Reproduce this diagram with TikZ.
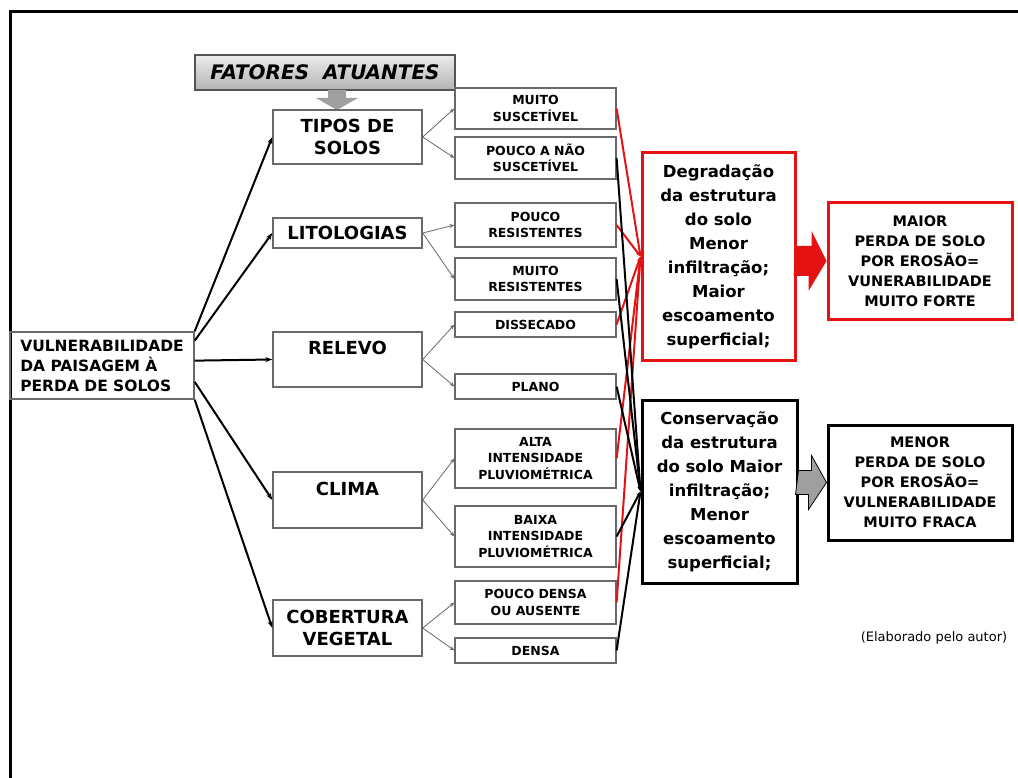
\documentclass[tikz,border=0pt]{standalone}
\usepackage{fontspec}
\setmainfont{DejaVu Sans}
\usetikzlibrary{arrows.meta}
\definecolor{verm}{RGB}{228,18,18}
\definecolor{cinza}{RGB}{105,105,105}

\begin{document}
\begin{tikzpicture}[x=1pt, y=-1pt,
    catbox/.style={draw=cinza, line width=1.4pt, minimum width=149pt, inner sep=0pt, align=center, font=\fontsize{18}{22}\selectfont\bfseries},
    subbox/.style={draw=cinza, line width=1.2pt, minimum width=161pt, inner sep=0pt, align=center, font=\fontsize{12.5}{16.5}\selectfont\bfseries},
    redbox/.style={draw=verm, line width=3pt, inner sep=0pt, align=center, font=\fontsize{16.5}{24}\selectfont\bfseries},
    blackbox/.style={draw=black, line width=3pt, inner sep=0pt, align=center, font=\fontsize{16.5}{24}\selectfont\bfseries},
    resbox/.style={line width=3pt, minimum width=184pt, inner sep=0pt, align=center, font=\fontsize{14.5}{20}\selectfont\bfseries},
    mainarrow/.style={line width=2pt, -{Stealth[length=7pt,width=5pt]}},
    subarrow/.style={draw=cinza, line width=0.8pt, -{Stealth[length=5pt,width=4pt]}},
    redline/.style={verm, line width=2pt, -{Stealth[length=5pt,width=4pt]}},
    blackline/.style={black, line width=2pt, -{Stealth[length=5pt,width=4pt]}}]

    \useasboundingbox (0,0) rectangle (1018,778);
    \draw[line width=3pt] (10,778) -- (10,12) -- (1018,12);

    % titulo e origem
    \node[draw=cinza!80!black, line width=1.2pt, top color=gray!15, bottom color=gray!60, minimum width=260pt, minimum height=35pt, inner sep=0pt, font=\fontsize{20}{24}\selectfont\bfseries\itshape] (fat) at(325, 72.5){FATORES\ \ ATUANTES};
    \node[draw=cinza, line width=1.4pt, minimum width=184pt, minimum height=67pt, inner sep=0pt, align=left, font=\fontsize{15.5}{20}\selectfont\bfseries] (vul) at(102, 365.5){VULNERABILIDADE\\DA PAISAGEM À\\PERDA DE SOLOS};

    \coordinate (fatseta) at(337, 90);
    \fill[gray!75] (fatseta) ++(-9,0) -- ++(18,0) -- ++(0,8) -- ++(12,0) -- ++(-21,12) -- ++(-21,-12) -- ++(12,0) -- cycle;

    % fatores
    \node[catbox, minimum height=54pt] (tipos) at(347.5, 137){TIPOS DE\\SOLOS};
    \node[catbox, minimum height=30pt] (lito) at(347.5, 233){LITOLOGIAS};
    \node[catbox, minimum height=55pt, text depth=23pt] (relevo) at(347.5, 359.5){RELEVO};
    \node[catbox, minimum height=56pt, text depth=23pt] (clima) at(347.5, 500){CLIMA};
    \node[catbox, minimum height=56pt] (cob) at(347.5, 628){COBERTURA\\VEGETAL};

    % classes
    \node[subbox, minimum height=41pt] (msusc) at(535.5, 108.5){MUITO\\SUSCETÍVEL};
    \node[subbox, minimum height=42pt] (pnsusc) at(535.5, 158){POUCO A NÃO\\SUSCETÍVEL};
    \node[subbox, minimum height=44pt] (pres) at(535.5, 225){POUCO\\RESISTENTES};
    \node[subbox, minimum height=42pt] (mres) at(535.5, 279){MUITO\\RESISTENTES};
    \node[subbox, minimum height=25pt] (diss) at(535.5, 324.5){DISSECADO};
    \node[subbox, minimum height=25pt] (plano) at(535.5, 386.5){PLANO};
    \node[subbox, minimum height=59pt] (alta) at(535.5, 458.5){ALTA\\INTENSIDADE\\PLUVIOMÉTRICA};
    \node[subbox, minimum height=61pt] (baixa) at(535.5, 536.5){BAIXA\\INTENSIDADE\\PLUVIOMÉTRICA};
    \node[subbox, minimum height=43pt] (pdensa) at(535.5, 602.5){POUCO DENSA\\OU AUSENTE};
    \node[subbox, minimum height=25pt] (densa) at(535.5, 650.5){DENSA};

    % efeitos
    \node[redbox, minimum width=153pt, minimum height=207pt] (degr) at(718.5, 256.5){Degradação\\da estrutura\\do solo\\Menor\\infiltração;\\Maior\\escoamento\\superficial;};
    \node[blackbox, minimum width=155pt, minimum height=183pt] (cons) at(719.5, 491.5){Conservação\\da estrutura\\do solo Maior\\infiltração;\\Menor\\escoamento\\superficial;};
    \node[resbox, draw=verm, minimum height=116pt] (maior) at(920, 261){MAIOR\\PERDA DE SOLO\\POR EROSÃO=\\VUNERABILIDADE\\MUITO FORTE};
    \node[resbox, draw=black, minimum height=115pt] (menor) at(920, 482.5){MENOR\\PERDA DE SOLO\\POR EROSÃO=\\VULNERABILIDADE\\MUITO FRACA};

    \node[font=\fontsize{13}{15}\selectfont] (autor) at(934, 638){(Elaborado pelo autor)};

    \draw[mainarrow] (vul.north east) -- (tipos.west);
    \draw[mainarrow] (vul.15) -- (lito.west);
    \draw[mainarrow] (vul.3) -- (relevo.west);
    \draw[mainarrow] (vul.-10) -- (clima.west);
    \draw[mainarrow] (vul.south east) -- (cob.west);

    \draw[subarrow] (tipos.east) -- (msusc.west);
    \draw[subarrow] (tipos.east) -- (pnsusc.west);
    \draw[subarrow] (lito.east) -- (pres.west);
    \draw[subarrow] (lito.east) -- (mres.west);
    \draw[subarrow] (relevo.east) -- (diss.west);
    \draw[subarrow] (relevo.east) -- (plano.west);
    \draw[subarrow] (clima.east) -- (alta.west);
    \draw[subarrow] (clima.east) -- (baixa.west);
    \draw[subarrow] (cob.east) -- (pdensa.west);
    \draw[subarrow] (cob.east) -- (densa.west);

    \draw[redline] (msusc.east) -- (degr.west);
    \draw[redline] (pres.east) -- (degr.west);
    \draw[redline] (diss.east) -- (degr.west);
    \draw[redline] (alta.east) -- (degr.west);
    \draw[redline] (pdensa.east) -- (degr.west);

    \draw[blackline] (pnsusc.east) -- (cons.west);
    \draw[blackline] (mres.east) -- (cons.west);
    \draw[blackline] (plano.east) -- (cons.west);
    \draw[blackline] (baixa.east) -- (cons.west);
    \draw[blackline] (densa.east) -- (cons.west);

    \fill[verm] (degr.east |- maior.west) ++(0,-15) -- ++(15,0) -- ++(0,-15) -- (maior.west) -- ++(-18,30) -- ++(0,-15) -- ++(-15,0) -- cycle;
    \filldraw[fill=gray!75, draw=black, line width=0.8pt] (cons.east |- menor.west) ++(0,-12) -- ++(13,0) -- ++(0,-15) -- (menor.west) -- ++(-18,27) -- ++(0,-15) -- ++(-13,0) -- cycle;
\end{tikzpicture}
\end{document}
